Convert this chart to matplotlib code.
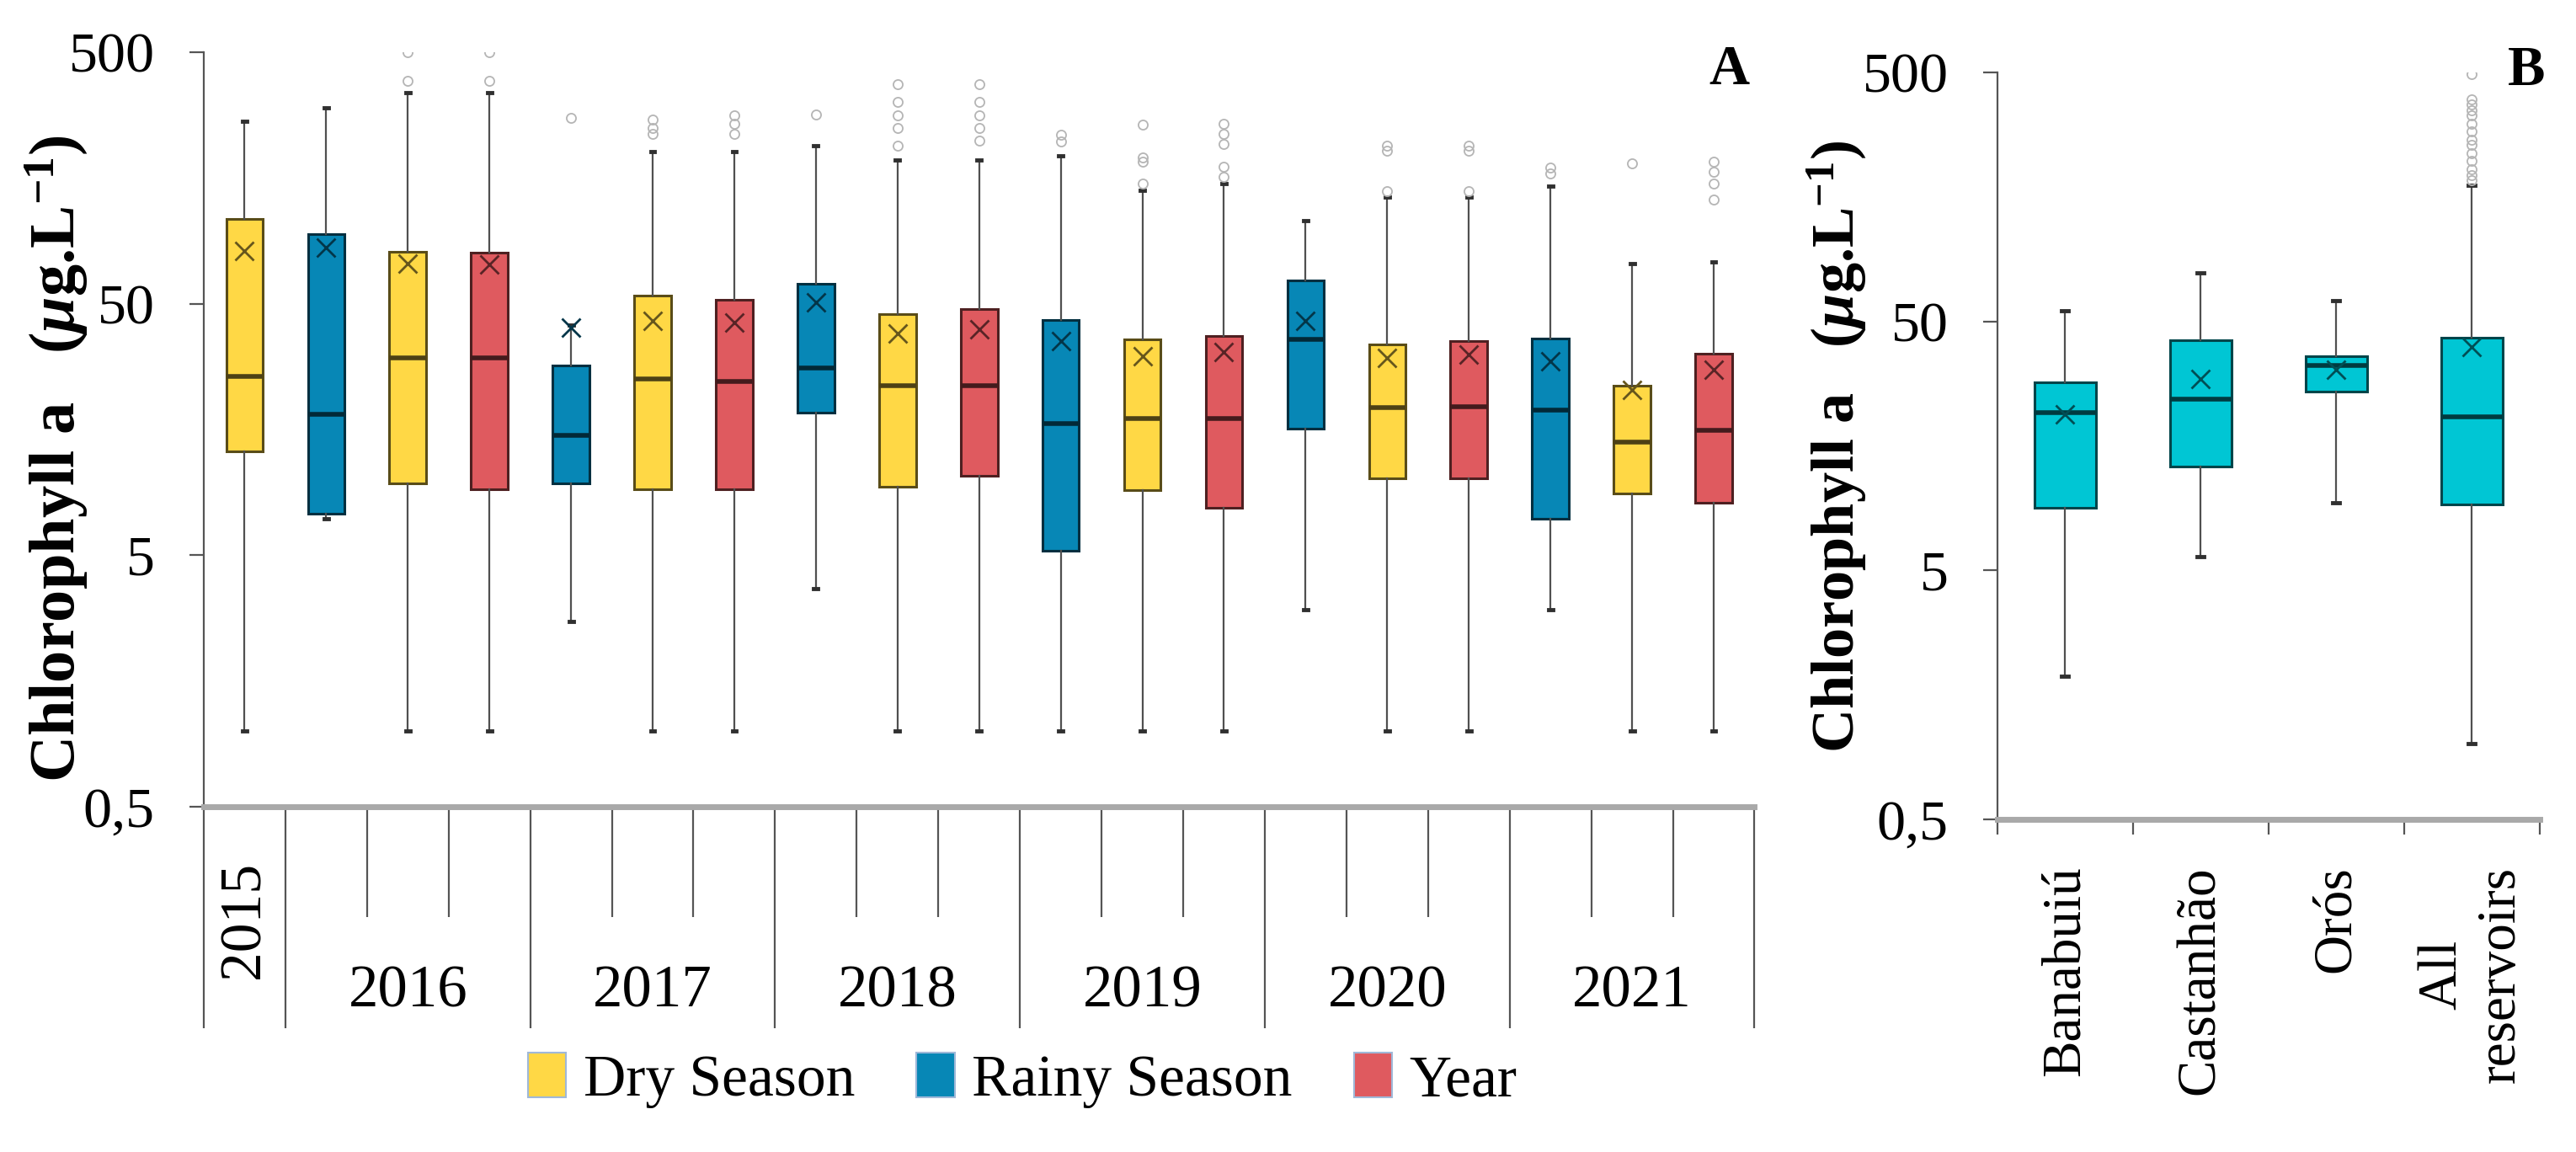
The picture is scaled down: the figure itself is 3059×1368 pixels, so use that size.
import numpy as np
import matplotlib
matplotlib.use("Agg")
import matplotlib.pyplot as plt
from matplotlib.patches import Patch
from matplotlib.colors import to_rgb

plt.rcParams['font.family'] = ['Liberation Serif', 'DejaVu Serif']
plt.rcParams['mathtext.fontset'] = 'custom'
plt.rcParams['mathtext.rm'] = 'Liberation Serif'
plt.rcParams['mathtext.it'] = 'Liberation Serif:italic:bold'
plt.rcParams['mathtext.bf'] = 'Liberation Serif:bold'

# ---------------- data: panel A ----------------
years = ['2015', '2016', '2017', '2018', '2019', '2020', '2021']
box_series = ['Dry', 'Rainy', 'Dry', 'Year', 'Rainy', 'Dry', 'Year', 'Rainy', 'Dry', 'Year',
              'Rainy', 'Dry', 'Year', 'Rainy', 'Dry', 'Year', 'Rainy', 'Dry', 'Year']
a_whislo = [1.0, 6.97, 1.0, 1.0, 2.73, 1.0, 1.0, 3.67, 1.0, 1.0,
            1.0, 1.0, 1.0, 3.02, 1.0, 1.0, 3.02, 1.0, 1.0]
a_q1 = [12.9, 7.32, 9.6, 9.14, 9.6, 9.14, 9.14, 18.4, 9.36, 10.3,
        5.18, 9.04, 7.69, 15.9, 10.1, 10.1, 6.97, 8.78, 8.07]
a_med = [25.7, 18.2, 30.5, 30.5, 14.9, 25.1, 24.5, 27.7, 23.5, 23.6,
         16.7, 17.5, 17.5, 35.9, 19.3, 19.4, 18.9, 14.1, 15.7]
a_q3 = [108.7, 94.7, 80.5, 79.6, 28.3, 53.7, 51.6, 59.9, 45.3, 47.5,
        43.1, 35.9, 37.2, 61.7, 34.5, 35.4, 36.3, 23.6, 31.7]
a_whishi = [266, 301, 344, 344, 41.0, 201, 201, 213, 186, 186,
            193, 141, 150, 107, 133, 133, 147, 72.3, 73.3]
a_mean = [80.9, 83.7, 72.3, 71.5, 40.0, 42.6, 42.0, 50.7, 38.1, 39.4,
          35.4, 30.8, 32.0, 42.7, 30.5, 31.3, 29.5, 22.7, 27.2]
a_fliers = [[], [], [385, 500], [385, 500], [273], [237, 250, 270], [237, 260, 280], [282],
            [213, 250, 280, 316, 372], [222, 250, 280, 316, 372], [221, 234],
            [150, 184, 190, 257], [160, 175, 215, 237, 260], [], [140, 203, 213],
            [140, 203, 213], [165, 174], [180], [130, 150, 167, 184]]
group_sizes = [1, 3, 3, 3, 3, 3, 3]

# ---------------- data: panel B ----------------
reservoirs = ['Banabuiú', 'Castanhão', 'Orós', 'All\nreservoirs']
b_whislo = [1.88, 5.69, 9.36, 1.01]
b_q1 = [8.9, 13.1, 26.2, 9.22]
b_med = [21.5, 24.3, 33.3, 20.7]
b_q3 = [28.4, 42.0, 36.2, 43.1]
b_whishi = [55.2, 78.6, 60.4, 176]
b_mean = [21.2, 29.4, 32.0, 39.6]
b_fliers = [[], [], [], [185, 194, 204, 220, 237, 256, 269, 290, 312, 336, 353, 372, 390, 493]]

series_names = ['Dry Season', 'Rainy Season', 'Year']
series_colors = {'Dry': '#FFD845', 'Rainy': '#0787B6', 'Year': '#DF5A5F'}
b_color = '#00C6D4'

ylabel_text = r"Chlorophyll a   ($\mu$g.L$^{\mathbf{-1}}$)"


def darker(c, f=0.45):
    r, g, b = to_rgb(c)
    return (r * f, g * f, b * f)


def make_stats(wl, q1, med, q3, wh, mean, fl):
    return [dict(whislo=a, q1=b, med=c, q3=d, whishi=e, mean=m, fliers=f)
            for a, b, c, d, e, m, f in zip(wl, q1, med, q3, wh, mean, fl)]


def draw_boxes(ax, stats, colors):
    res = ax.bxp(stats, positions=np.arange(1, len(stats) + 1), widths=0.45,
                 patch_artist=True, showmeans=True, capwidths=0.05,
                 whiskerprops=dict(color='#505050', lw=1.6),
                 capprops=dict(color='#303030', lw=3.5),
                 flierprops=dict(marker='o', mfc='none', mec='#b5b5b5', ms=8, mew=1.3),
                 medianprops=dict(lw=4),
                 meanprops=dict(marker='x', ms=16, mew=2.0))
    for i, c in enumerate(colors):
        res['boxes'][i].set_facecolor(c)
        res['boxes'][i].set_edgecolor(darker(c, 0.35))
        res['boxes'][i].set_linewidth(2.2)
        res['medians'][i].set_color(darker(c, 0.3))
        res['means'][i].set_markeredgecolor(darker(c, 0.4))
    return res


def style_axis(ax):
    ax.set_yscale('log')
    ax.set_ylim(0.5, 500)
    ax.set_yticks([0.5, 5, 50, 500])
    ax.set_yticklabels(['0,5', '5', '50', '500'])
    ax.yaxis.set_minor_locator(matplotlib.ticker.NullLocator())
    ax.spines['top'].set_visible(False)
    ax.spines['right'].set_visible(False)
    ax.spines['left'].set_color('#555555')
    ax.spines['left'].set_linewidth(1.6)
    ax.spines['bottom'].set_color('#a9a9a9')
    ax.spines['bottom'].set_linewidth(5)
    ax.tick_params(axis='y', which='major', length=12, width=1.6, color='#555555',
                   pad=30, labelsize=49)


fig = plt.figure(figsize=(30.59, 13.68), dpi=100)

# ---------------- panel A ----------------
axA = fig.add_axes([0.0791, 0.300, 0.602, 0.6547])
statsA = make_stats(a_whislo, a_q1, a_med, a_q3, a_whishi, a_mean, a_fliers)
draw_boxes(axA, statsA, [series_colors[s] for s in box_series])
style_axis(axA)
axA.set_xlim(0.5, len(box_series) + 0.5)

bounds = np.concatenate([[0], np.cumsum(group_sizes)]) + 0.5
all_bounds = np.arange(0.5, len(box_series) + 1.0, 1.0)
inner = [b for b in all_bounds if not np.any(np.isclose(b, bounds))]
axA.set_xticks(bounds)
axA.set_xticklabels([])
axA.set_xticks(inner, minor=True)
axA.tick_params(axis='x', which='major', length=189, width=1.6, color='#555555', direction='out')
axA.tick_params(axis='x', which='minor', length=94, width=1.6, color='#555555', direction='out')

centers = (bounds[:-1] + bounds[1:]) / 2
for yr, cx, n in zip(years, centers, group_sizes):
    if n == 1:
        axA.text(cx, -0.151, yr, transform=axA.get_xaxis_transform(), rotation=90,
                 ha='center', va='center', fontsize=50)
    else:
        axA.text(cx, -0.246, yr, transform=axA.get_xaxis_transform(),
                 ha='center', va='center', fontsize=51)

fig.text(0.0219, 0.6016, ylabel_text, rotation=90,
         ha='center', va='center', fontsize=55, fontweight='bold')
fig.text(0.6712, 0.939, 'A', ha='center', va='center', fontsize=48, fontweight='bold')

handles = [Patch(facecolor=series_colors[k], edgecolor='#9fb8d8', lw=1.5)
           for k in ['Dry', 'Rainy', 'Year']]
fig.legend(handles, series_names, loc='center', bbox_to_anchor=(0.397, 0.062),
           ncol=3, frameon=False, fontsize=50, handlelength=0.65, handleheight=0.8,
           handletextpad=0.3, columnspacing=1.05)

# ---------------- panel B ----------------
axB = fig.add_axes([0.7754, 0.2888, 0.2105, 0.6483])
statsB = make_stats(b_whislo, b_q1, b_med, b_q3, b_whishi, b_mean, b_fliers)
draw_boxes(axB, statsB, [b_color] * len(reservoirs))
style_axis(axB)
axB.set_xlim(0.5, len(reservoirs) + 0.5)
axB.set_xticks(np.arange(1, len(reservoirs) + 1))
axB.set_xticklabels(reservoirs, rotation=90, fontsize=47, va='top', ha='center')
axB.set_xticks(np.arange(0.5, len(reservoirs) + 1.0, 1.0), minor=True)
axB.tick_params(axis='x', which='major', length=0, pad=40)
axB.tick_params(axis='x', which='minor', length=13, width=1.6, color='#555555', direction='out')

fig.text(0.7127, 0.6126, ylabel_text, rotation=90,
         ha='center', va='center', fontsize=52, fontweight='bold')
fig.text(0.9807, 0.938, 'B', ha='center', va='center', fontsize=48, fontweight='bold')

fig.savefig('out.png', dpi=100, facecolor='white')
